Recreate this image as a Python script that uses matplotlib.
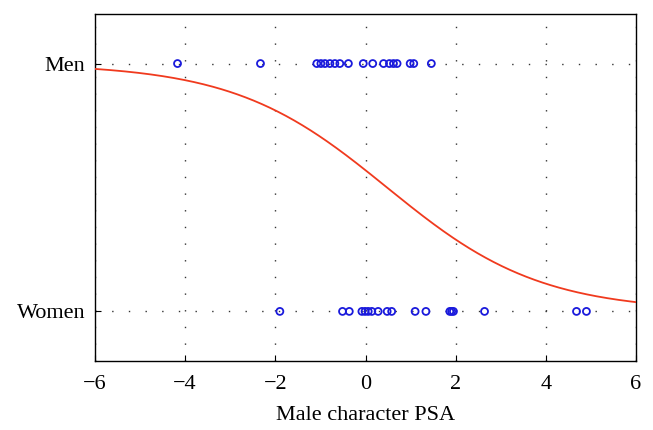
import numpy as np
import matplotlib
matplotlib.use("Agg")
import matplotlib.pyplot as plt

plt.rcParams['font.family'] = ['Liberation Serif', 'DejaVu Serif']

categories = ["Women", "Men"]
men_psa = [-4.17, -2.33, -1.08, -0.99, -0.90, -0.79, -0.68, -0.57, -0.38,
           -0.05, 0.16, 0.40, 0.53, 0.62, 0.70, 0.99, 1.07, 1.46]
women_psa = [-1.90, -0.51, -0.36, -0.08, -0.01, 0.06, 0.14, 0.28, 0.48, 0.58,
             1.10, 1.34, 1.87, 1.91, 1.95, 2.64, 4.68, 4.90]
# logistic fit: P(Men) = 1 / (1 + exp(-(b0 + b1*x)))
b0, b1 = 0.28, -0.588
xticks = [-6, -4, -2, 0, 2, 4, 6]

fig = plt.figure(figsize=(6.53, 4.30), dpi=100)
ax = fig.add_axes([0.1455, 0.1605, 0.8285, 0.807])

xs = np.linspace(-6, 6, 400)
ax.plot(xs, 1 / (1 + np.exp(-(b0 + b1 * xs))), color='#f03a1e', lw=1.3, zorder=3)

ax.scatter(men_psa, np.ones(len(men_psa)), s=25, facecolors='none',
           edgecolors='#1a1adc', linewidths=1.3, zorder=4)
ax.scatter(women_psa, np.zeros(len(women_psa)), s=25, facecolors='none',
           edgecolors='#1a1adc', linewidths=1.3, zorder=4)

ax.set_xlim(-6, 6)
ax.set_ylim(-0.2, 1.2)
ax.set_xticks(xticks)
ax.set_xticklabels([("\u2212" + str(-t)) if t < 0 else str(t) for t in xticks])
ax.set_yticks([0, 1])
ax.set_yticklabels(categories)
ax.grid(True, color='#333333', linestyle=(0, (1, 11)), linewidth=1.0)
ax.tick_params(direction='in', length=4, labelsize=16, pad=7, color='black')
ax.tick_params(axis='x', pad=10)
for s in ax.spines.values():
    s.set_linewidth(1.0)
ax.set_xlabel("Male character PSA", fontsize=16, labelpad=9)

fig.savefig("out.png", dpi=100)
